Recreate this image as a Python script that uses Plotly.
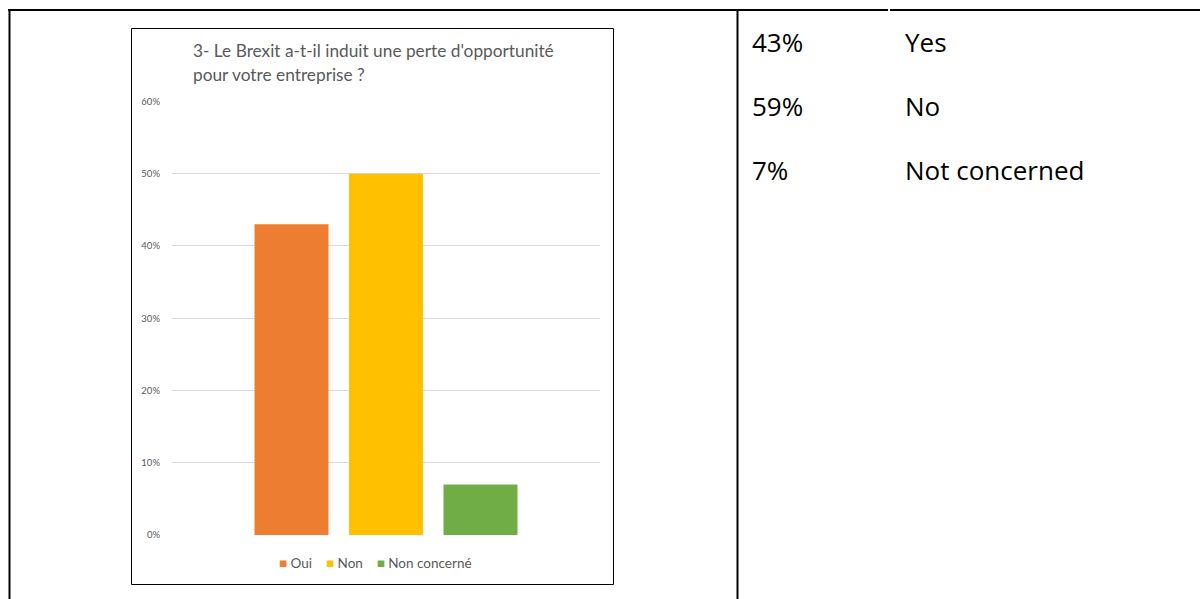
import plotly.graph_objects as go

# ---- data ----
categories = ["Oui", "Non", "Non concerné"]
values = [0.43, 0.50, 0.07]
colors = ["#ED7D31", "#FFC000", "#70AD47"]
y_ticks = [0, 0.1, 0.2, 0.3, 0.4, 0.5, 0.6]
title_lines = ["3- Le Brexit a-t-il induit une perte d'opportunité", "pour votre entreprise ?"]
side_pcts = ["43%", "59%", "7%"]
side_labels = ["Yes", "No", "Not concerned"]

W, H = 1200, 599


def px(x):
    return x / W


def py(y):
    return 1 - y / H


fig = go.Figure()
for cat, val, col in zip(categories, values, colors):
    fig.add_trace(go.Bar(x=[""], y=[val], name=cat, marker=dict(color=col, line=dict(width=0)),
                         hoverinfo="skip"))

shapes = []
# table borders
shapes.append(dict(type="line", xref="paper", yref="paper", x0=px(8), x1=px(888), y0=py(10), y1=py(10),
                   line=dict(color="black", width=2)))
shapes.append(dict(type="line", xref="paper", yref="paper", x0=px(890), x1=px(1200), y0=py(10), y1=py(10),
                   line=dict(color="black", width=2)))
shapes.append(dict(type="line", xref="paper", yref="paper", x0=px(9.5), x1=px(9.5), y0=py(9), y1=0,
                   line=dict(color="black", width=2)))
shapes.append(dict(type="line", xref="paper", yref="paper", x0=px(737.5), x1=px(737.5), y0=py(9), y1=0,
                   line=dict(color="black", width=2)))
# chart frame
shapes.append(dict(type="rect", xref="paper", yref="paper", x0=px(131.5), x1=px(613.5), y0=py(28.5), y1=py(584.5),
                   line=dict(color="black", width=1), layer="below"))

annotations = []
for i, line in enumerate(title_lines):
    annotations.append(dict(text=line, xref="paper", yref="paper", x=px(191), y=py(50.5 + 24 * i),
                            xanchor="left", yanchor="middle", showarrow=False,
                            font=dict(family="Lato", size=17.3, color="#595959")))
for i, (p, l) in enumerate(zip(side_pcts, side_labels)):
    yy = py(42 + 64 * i)
    annotations.append(dict(text=p, xref="paper", yref="paper", x=px(750), y=yy, xanchor="left",
                            yanchor="middle", showarrow=False,
                            font=dict(family="Open Sans", size=26, color="#000000")))
    annotations.append(dict(text=l, xref="paper", yref="paper", x=px(902.5), y=yy, xanchor="left",
                            yanchor="middle", showarrow=False,
                            font=dict(family="Open Sans", size=26, color="#000000")))

# legend drawn as text (Excel-style compact legend)
sep = "&nbsp;&nbsp;&nbsp;&nbsp;"
legend_text = sep.join(
    f"<span style='color:{c}'>■</span>&nbsp;{n}" for n, c in zip(categories, colors)
)
annotations.append(dict(text=legend_text, xref="paper", yref="paper", x=px(375), y=py(563),
                        xanchor="center", yanchor="middle", showarrow=False,
                        font=dict(family="Lato", size=13.5, color="#595959")))

fig.update_layout(
    width=W, height=H, margin=dict(l=0, r=0, t=0, b=0, pad=0, autoexpand=False),
    paper_bgcolor="white", plot_bgcolor="white",
    barmode="group", bargap=0.3376, bargroupgap=0.217,
    showlegend=False,
    xaxis=dict(domain=[px(172), px(600)], showticklabels=False, showgrid=False, zeroline=False,
               showline=False, fixedrange=True, automargin=False),
    yaxis=dict(domain=[py(535), py(101)], range=[0, 0.6005], tickvals=y_ticks, tickformat=".0%",
               showgrid=True, gridcolor="#D9D9D9", gridwidth=1, zeroline=False, showline=False,
               ticks="", ticklabelstandoff=11, automargin=False,
               tickfont=dict(family="Lato", size=9.5, color="#595959")),
    shapes=shapes, annotations=annotations,
)

fig.write_html("out.html", config={"displayModeBar": False},
               post_script="document.body.style.margin='0';document.body.style.overflow='hidden';")
